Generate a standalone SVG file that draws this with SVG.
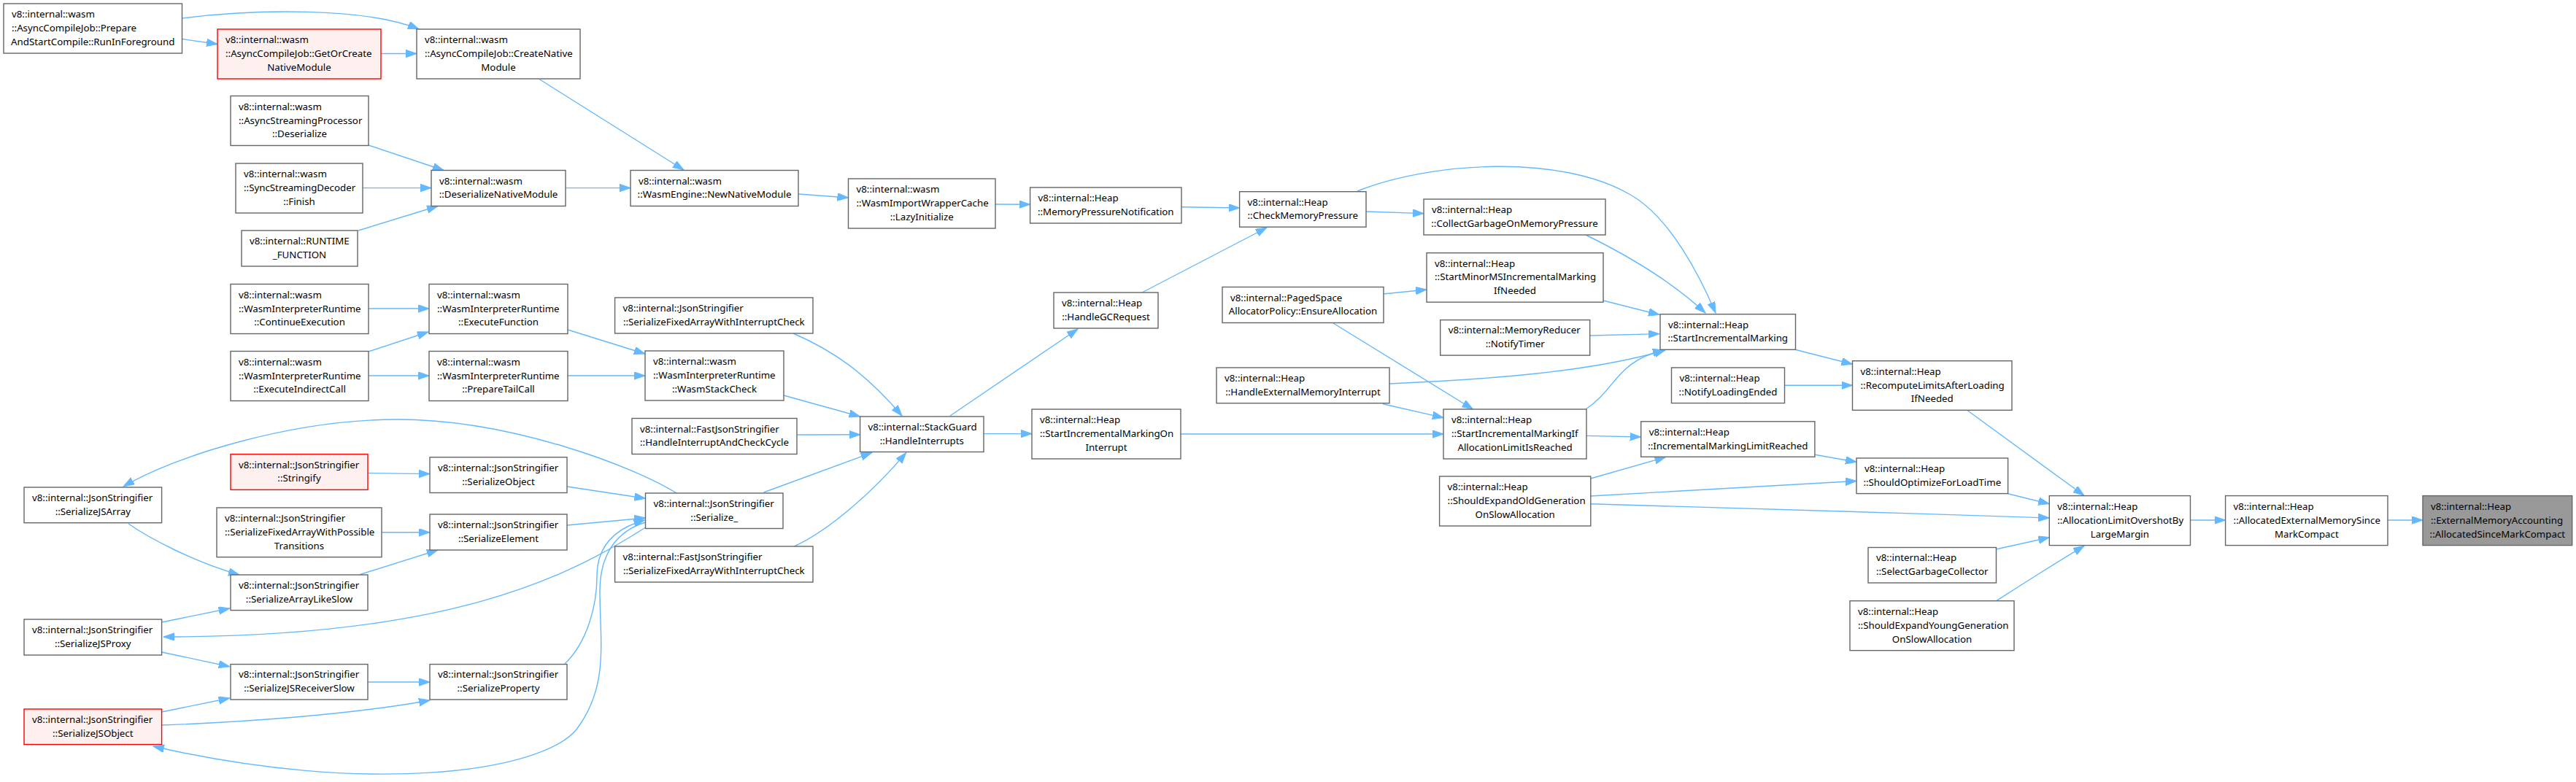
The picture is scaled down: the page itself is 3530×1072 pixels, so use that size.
<svg xmlns="http://www.w3.org/2000/svg" width="3530" height="1072" viewBox="0 0 3530 1072">
<style>
.nd rect{fill:#ffffff;stroke:#666666;stroke-width:1.4}
.nd.red rect{fill:#fff0f0;stroke:#ff0000}
.nd.grey rect{fill:#999999;stroke:#666666}
text{font-family:"Noto Sans","Liberation Sans",sans-serif;font-size:13.3px;fill:#000000}
.m{text-anchor:middle}
#edges path{fill:none;stroke:#63b8ff;stroke-width:1.4;marker-end:url(#ah)}
</style>
<defs>
<marker id="ah" markerUnits="userSpaceOnUse" markerWidth="16" markerHeight="12" refX="15" refY="5.25" orient="auto">
<path d="M0,0 L15,5.25 L0,10.5 z" fill="#63b8ff" stroke="#63b8ff" stroke-width="1"/>
</marker>
</defs>
<rect width="3530" height="1072" fill="#ffffff"/>
<g id="edges">
<path d="M250,25 C350,12 500,10 574,40"/>
<path d="M250,53.5 L298,60.5"/>
<path d="M522,73.5 L571,73.5"/>
<path d="M739,108.5 L937,233"/>
<path d="M505,199 L608,233.5"/>
<path d="M497,257.6 L591,257.6"/>
<path d="M491,316 L600,282.5"/>
<path d="M775,257.6 L864,257.6"/>
<path d="M1094,266 L1162.5,271"/>
<path d="M1364,280 L1411.6,280.3"/>
<path d="M1619,283.8 L1698.6,285"/>
<path d="M1565,401 L1736,312"/>
<path d="M1872,290 L1951,292.6"/>
<path d="M1860,262 C1960,222 2140,210 2236,268 C2290,300 2330,380 2351,429"/>
<path d="M2173,322 C2230,350 2290,385 2337,429"/>
<path d="M2197,412 L2274,431.5"/>
<path d="M2179,460 L2274,457.6"/>
<path d="M1904,526 C2040,520 2180,510 2282,480"/>
<path d="M2173,561 C2215,533 2215,495 2280,480"/>
<path d="M1895.6,403 L1955,397"/>
<path d="M1827,443 L2018.5,561"/>
<path d="M1895,553.7 L1978,572.6"/>
<path d="M1618,595 L1978,595"/>
<path d="M2174,597.4 L2248.6,599"/>
<path d="M2179.8,656 L2282.5,626.7"/>
<path d="M2179.8,680 L2544,659.4"/>
<path d="M2179.8,690.7 C2400,697 2600,703 2808.3,710"/>
<path d="M2460,479.3 L2538.5,499.3"/>
<path d="M2445.6,528.3 L2538.5,528.3"/>
<path d="M2487,623.3 L2544,633.3"/>
<path d="M2695.6,562.3 L2856,679.3"/>
<path d="M2751.4,676.7 L2808.3,690.7"/>
<path d="M2735,753 L2808.3,736.7"/>
<path d="M2735.8,823.7 C2780,795 2820,770 2856,748.3"/>
<path d="M3001.5,713 L3049.6,713"/>
<path d="M3272,713 L3320,713"/>
<path d="M505,423 L588,423"/>
<path d="M505,482 L587,455"/>
<path d="M505,515 L588,515"/>
<path d="M778,452 L884,485"/>
<path d="M778,515 L884,515"/>
<path d="M1074,542 L1178.6,571"/>
<path d="M1087,457 C1140,480 1185,510 1236,570"/>
<path d="M1092,596 L1178.6,595.7"/>
<path d="M1046.5,675 L1194.6,620.6"/>
<path d="M1088.5,749 C1140,725 1200,670 1241.7,620.6"/>
<path d="M1348,594.6 L1414,594.6"/>
<path d="M1302,570 L1477,451"/>
<path d="M504,648.6 L589,649.6"/>
<path d="M777,667 L884.5,683.3"/>
<path d="M523,729.8 L589,729.8"/>
<path d="M777,720 L884.5,710"/>
<path d="M493.6,787.5 L600,754"/>
<path d="M176,718 C205,738 265,770 328,788"/>
<path d="M927,676 C870,640 700,575 545,575 C400,575 240,625 169,667"/>
<path d="M221.6,853 L314.6,834"/>
<path d="M884.5,723 C780,790 620,873 224,873"/>
<path d="M221.6,894 L314.6,913.7"/>
<path d="M504,935 L589,935"/>
<path d="M774,910 C805,880 818,830 818,790 C818,750 840,725 883.5,713"/>
<path d="M221.6,976 L314.6,957"/>
<path d="M221.6,994 C330,990 480,980 589,960"/>
<path d="M884.5,716 C845,728 822,760 822,810 C822,880 835,940 790,1000 C740,1060 500,1090 210,1023"/>
</g>
<g id="n_run" class="nd"><rect x="5" y="5" width="244.5" height="68"/><text><tspan x="16" y="24.1">v8::internal::wasm</tspan><tspan x="16" y="43">::AsyncCompileJob::Prepare</tspan><tspan class="m" x="127.25" y="61.9">AndStartCompile::RunInForeground</tspan></text></g>
<g id="n_getor" class="nd red"><rect x="298" y="40" width="224" height="68"/><text><tspan x="309" y="59.1">v8::internal::wasm</tspan><tspan x="309" y="78">::AsyncCompileJob::GetOrCreate</tspan><tspan class="m" x="410" y="96.9">NativeModule</tspan></text></g>
<g id="n_asp" class="nd"><rect x="316" y="131.5" width="189" height="68"/><text><tspan x="327" y="150.6">v8::internal::wasm</tspan><tspan x="327" y="169.5">::AsyncStreamingProcessor</tspan><tspan class="m" x="410.5" y="188.4">::Deserialize</tspan></text></g>
<g id="n_ssd" class="nd"><rect x="323" y="224" width="174" height="68"/><text><tspan x="334" y="243.1">v8::internal::wasm</tspan><tspan x="334" y="262">::SyncStreamingDecoder</tspan><tspan class="m" x="410" y="280.9">::Finish</tspan></text></g>
<g id="n_rt" class="nd"><rect x="331" y="316" width="159" height="49"/><text><tspan x="342" y="335.05">v8::internal::RUNTIME</tspan><tspan class="m" x="410.5" y="353.95">_FUNCTION</tspan></text></g>
<g id="n_cont" class="nd"><rect x="316" y="389.5" width="189" height="68"/><text><tspan x="327" y="408.6">v8::internal::wasm</tspan><tspan x="327" y="427.5">::WasmInterpreterRuntime</tspan><tspan class="m" x="410.5" y="446.4">::ContinueExecution</tspan></text></g>
<g id="n_eic" class="nd"><rect x="316" y="481.5" width="189" height="68"/><text><tspan x="327" y="500.6">v8::internal::wasm</tspan><tspan x="327" y="519.5">::WasmInterpreterRuntime</tspan><tspan class="m" x="410.5" y="538.4">::ExecuteIndirectCall</tspan></text></g>
<g id="n_create" class="nd"><rect x="571" y="40" width="224" height="68"/><text><tspan x="582" y="59.1">v8::internal::wasm</tspan><tspan x="582" y="78">::AsyncCompileJob::CreateNative</tspan><tspan class="m" x="683" y="96.9">Module</tspan></text></g>
<g id="n_dnm" class="nd"><rect x="591" y="233.5" width="184" height="49"/><text><tspan x="602" y="252.55">v8::internal::wasm</tspan><tspan class="m" x="683" y="271.45">::DeserializeNativeModule</tspan></text></g>
<g id="n_ef" class="nd"><rect x="588" y="389.5" width="190" height="68"/><text><tspan x="599" y="408.6">v8::internal::wasm</tspan><tspan x="599" y="427.5">::WasmInterpreterRuntime</tspan><tspan class="m" x="683" y="446.4">::ExecuteFunction</tspan></text></g>
<g id="n_ptc" class="nd"><rect x="588" y="481.5" width="190" height="68"/><text><tspan x="599" y="500.6">v8::internal::wasm</tspan><tspan x="599" y="519.5">::WasmInterpreterRuntime</tspan><tspan class="m" x="683" y="538.4">::PrepareTailCall</tspan></text></g>
<g id="n_nnm" class="nd"><rect x="864" y="233.5" width="230" height="49"/><text><tspan x="875" y="252.55">v8::internal::wasm</tspan><tspan class="m" x="979" y="271.45">::WasmEngine::NewNativeModule</tspan></text></g>
<g id="n_jsfa" class="nd"><rect x="842.6" y="408" width="271.4" height="49"/><text><tspan x="853.6" y="427.05">v8::internal::JsonStringifier</tspan><tspan class="m" x="978.3" y="445.95">::SerializeFixedArrayWithInterruptCheck</tspan></text></g>
<g id="n_wsc" class="nd"><rect x="884" y="481" width="190" height="68"/><text><tspan x="895" y="500.1">v8::internal::wasm</tspan><tspan x="895" y="519">::WasmInterpreterRuntime</tspan><tspan class="m" x="979" y="537.9">::WasmStackCheck</tspan></text></g>
<g id="n_hiacc" class="nd"><rect x="866" y="573.5" width="226" height="49"/><text><tspan x="877" y="592.55">v8::internal::FastJsonStringifier</tspan><tspan class="m" x="979" y="611.45">::HandleInterruptAndCheckCycle</tspan></text></g>
<g id="n_ser" class="nd"><rect x="884.5" y="676" width="188.5" height="48.5"/><text><tspan x="895.5" y="694.8">v8::internal::JsonStringifier</tspan><tspan class="m" x="978.75" y="713.7">::Serialize_</tspan></text></g>
<g id="n_fjsfa" class="nd"><rect x="842.6" y="749" width="271.4" height="49"/><text><tspan x="853.6" y="768.05">v8::internal::FastJsonStringifier</tspan><tspan class="m" x="978.3" y="786.95">::SerializeFixedArrayWithInterruptCheck</tspan></text></g>
<g id="n_lazy" class="nd"><rect x="1162.5" y="245" width="201.5" height="68"/><text><tspan x="1173.5" y="264.1">v8::internal::wasm</tspan><tspan x="1173.5" y="283">::WasmImportWrapperCache</tspan><tspan class="m" x="1263.25" y="301.9">::LazyInitialize</tspan></text></g>
<g id="n_sg" class="nd"><rect x="1178.6" y="571" width="169.4" height="48.5"/><text><tspan x="1189.6" y="589.8">v8::internal::StackGuard</tspan><tspan class="m" x="1263.3" y="608.7">::HandleInterrupts</tspan></text></g>
<g id="n_mpn" class="nd"><rect x="1411.6" y="257" width="207.4" height="49"/><text><tspan x="1422.6" y="276.05">v8::internal::Heap</tspan><tspan class="m" x="1515.3" y="294.95">::MemoryPressureNotification</tspan></text></g>
<g id="n_gcr" class="nd"><rect x="1444" y="401" width="143" height="49"/><text><tspan x="1455" y="420.05">v8::internal::Heap</tspan><tspan class="m" x="1515.5" y="438.95">::HandleGCRequest</tspan></text></g>
<g id="n_simoi" class="nd"><rect x="1414" y="561" width="204" height="68"/><text><tspan x="1425" y="580.1">v8::internal::Heap</tspan><tspan x="1425" y="599">::StartIncrementalMarkingOn</tspan><tspan class="m" x="1516" y="617.9">Interrupt</tspan></text></g>
<g id="n_cmp" class="nd"><rect x="1698.6" y="262.7" width="173.4" height="48.5"/><text><tspan x="1709.6" y="281.5">v8::internal::Heap</tspan><tspan class="m" x="1785.3" y="300.4">::CheckMemoryPressure</tspan></text></g>
<g id="n_psap" class="nd"><rect x="1675" y="393.5" width="221" height="49"/><text><tspan x="1686" y="412.55">v8::internal::PagedSpace</tspan><tspan class="m" x="1785.5" y="431.45">AllocatorPolicy::EnsureAllocation</tspan></text></g>
<g id="n_hemi" class="nd"><rect x="1667" y="504" width="237" height="48.7"/><text><tspan x="1678" y="522.9">v8::internal::Heap</tspan><tspan class="m" x="1785.5" y="541.8">::HandleExternalMemoryInterrupt</tspan></text></g>
<g id="n_cgomp" class="nd"><rect x="1951" y="273" width="249" height="49"/><text><tspan x="1962" y="292.05">v8::internal::Heap</tspan><tspan class="m" x="2075.5" y="310.95">::CollectGarbageOnMemoryPressure</tspan></text></g>
<g id="n_smms" class="nd"><rect x="1955" y="346.7" width="242" height="67.5"/><text><tspan x="1966" y="365.55">v8::internal::Heap</tspan><tspan x="1966" y="384.45">::StartMinorMSIncrementalMarking</tspan><tspan class="m" x="2076" y="403.35">IfNeeded</tspan></text></g>
<g id="n_mrnt" class="nd"><rect x="1973.7" y="438.6" width="205" height="48.5"/><text><tspan x="1984.7" y="457.4">v8::internal::MemoryReducer</tspan><tspan class="m" x="2076.2" y="476.3">::NotifyTimer</tspan></text></g>
<g id="n_simial" class="nd"><rect x="1978" y="561" width="196" height="68"/><text><tspan x="1989" y="580.1">v8::internal::Heap</tspan><tspan x="1989" y="599">::StartIncrementalMarkingIf</tspan><tspan class="m" x="2076" y="617.9">AllocationLimitIsReached</tspan></text></g>
<g id="n_seog" class="nd"><rect x="1972.6" y="653" width="207.2" height="68"/><text><tspan x="1983.6" y="672.1">v8::internal::Heap</tspan><tspan x="1983.6" y="691">::ShouldExpandOldGeneration</tspan><tspan class="m" x="2076.2" y="709.9">OnSlowAllocation</tspan></text></g>
<g id="n_sim" class="nd"><rect x="2275" y="430.7" width="185.5" height="48.6"/><text><tspan x="2286" y="449.55">v8::internal::Heap</tspan><tspan class="m" x="2367.75" y="468.45">::StartIncrementalMarking</tspan></text></g>
<g id="n_nle" class="nd"><rect x="2290.5" y="504" width="155" height="48.6"/><text><tspan x="2301.5" y="522.85">v8::internal::Heap</tspan><tspan class="m" x="2368" y="541.75">::NotifyLoadingEnded</tspan></text></g>
<g id="n_imlr" class="nd"><rect x="2248.7" y="577.8" width="238.2" height="48.5"/><text><tspan x="2259.7" y="596.6">v8::internal::Heap</tspan><tspan class="m" x="2367.8" y="615.5">::IncrementalMarkingLimitReached</tspan></text></g>
<g id="n_rla" class="nd"><rect x="2538.5" y="494.7" width="218.5" height="67.6"/><text><tspan x="2549.5" y="513.6">v8::internal::Heap</tspan><tspan x="2549.5" y="532.5">::RecomputeLimitsAfterLoading</tspan><tspan class="m" x="2647.75" y="551.4">IfNeeded</tspan></text></g>
<g id="n_sofl" class="nd"><rect x="2544" y="628" width="207.6" height="48.6"/><text><tspan x="2555" y="646.85">v8::internal::Heap</tspan><tspan class="m" x="2647.8" y="665.75">::ShouldOptimizeForLoadTime</tspan></text></g>
<g id="n_sgc" class="nd"><rect x="2560" y="750.5" width="175.5" height="48.5"/><text><tspan x="2571" y="769.3">v8::internal::Heap</tspan><tspan class="m" x="2647.75" y="788.2">::SelectGarbageCollector</tspan></text></g>
<g id="n_seyg" class="nd"><rect x="2535" y="823.7" width="225" height="68"/><text><tspan x="2546" y="842.8">v8::internal::Heap</tspan><tspan x="2546" y="861.7">::ShouldExpandYoungGeneration</tspan><tspan class="m" x="2647.5" y="880.6">OnSlowAllocation</tspan></text></g>
<g id="n_alo" class="nd"><rect x="2808.3" y="679.6" width="193.2" height="68"/><text><tspan x="2819.3" y="698.7">v8::internal::Heap</tspan><tspan x="2819.3" y="717.6">::AllocationLimitOvershotBy</tspan><tspan class="m" x="2904.9" y="736.5">LargeMargin</tspan></text></g>
<g id="n_aem" class="nd"><rect x="3049.6" y="679.6" width="222.4" height="68"/><text><tspan x="3060.6" y="698.7">v8::internal::Heap</tspan><tspan x="3060.6" y="717.6">::AllocatedExternalMemorySince</tspan><tspan class="m" x="3160.8" y="736.5">MarkCompact</tspan></text></g>
<g id="n_target" class="nd grey"><rect x="3320" y="679.6" width="204.7" height="68"/><text><tspan x="3331" y="698.7">v8::internal::Heap</tspan><tspan x="3331" y="717.6">::ExternalMemoryAccounting</tspan><tspan class="m" x="3422.35" y="736.5">::AllocatedSinceMarkCompact</tspan></text></g>
<g id="n_sjsa" class="nd"><rect x="33" y="668" width="188.6" height="48.7"/><text><tspan x="44" y="686.9">v8::internal::JsonStringifier</tspan><tspan class="m" x="127.3" y="705.8">::SerializeJSArray</tspan></text></g>
<g id="n_sjsp" class="nd"><rect x="33" y="849" width="188.6" height="49"/><text><tspan x="44" y="868.05">v8::internal::JsonStringifier</tspan><tspan class="m" x="127.3" y="886.95">::SerializeJSProxy</tspan></text></g>
<g id="n_sjso" class="nd red"><rect x="33" y="972" width="188.6" height="48.5"/><text><tspan x="44" y="990.8">v8::internal::JsonStringifier</tspan><tspan class="m" x="127.3" y="1009.7">::SerializeJSObject</tspan></text></g>
<g id="n_str" class="nd red"><rect x="316" y="622.6" width="188" height="48.8"/><text><tspan x="327" y="641.55">v8::internal::JsonStringifier</tspan><tspan class="m" x="410" y="660.45">::Stringify</tspan></text></g>
<g id="n_sfawpt" class="nd"><rect x="297" y="696" width="226" height="67.7"/><text><tspan x="308" y="714.95">v8::internal::JsonStringifier</tspan><tspan x="308" y="733.85">::SerializeFixedArrayWithPossible</tspan><tspan class="m" x="410" y="752.75">Transitions</tspan></text></g>
<g id="n_sals" class="nd"><rect x="316" y="788" width="188" height="48.6"/><text><tspan x="327" y="806.85">v8::internal::JsonStringifier</tspan><tspan class="m" x="410" y="825.75">::SerializeArrayLikeSlow</tspan></text></g>
<g id="n_sjrs" class="nd"><rect x="316" y="910.6" width="188" height="48.4"/><text><tspan x="327" y="929.35">v8::internal::JsonStringifier</tspan><tspan class="m" x="410" y="948.25">::SerializeJSReceiverSlow</tspan></text></g>
<g id="n_sobj" class="nd"><rect x="589" y="626.8" width="188" height="48.7"/><text><tspan x="600" y="645.7">v8::internal::JsonStringifier</tspan><tspan class="m" x="683" y="664.6">::SerializeObject</tspan></text></g>
<g id="n_sel" class="nd"><rect x="589" y="705" width="188" height="49"/><text><tspan x="600" y="724.05">v8::internal::JsonStringifier</tspan><tspan class="m" x="683" y="742.95">::SerializeElement</tspan></text></g>
<g id="n_sprop" class="nd"><rect x="589" y="910.6" width="188" height="48.4"/><text><tspan x="600" y="929.35">v8::internal::JsonStringifier</tspan><tspan class="m" x="683" y="948.25">::SerializeProperty</tspan></text></g>
</svg>
